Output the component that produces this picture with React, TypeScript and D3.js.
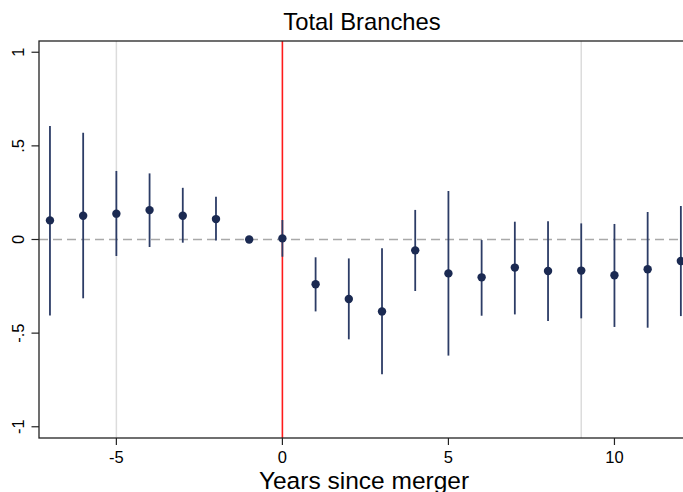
import React from 'react';
import * as d3 from 'd3';

// event-study estimates
const years = [-7, -6, -5, -4, -3, -2, -1, 0, 1, 2, 3, 4, 5, 6, 7, 8, 9, 10, 11, 12];
const coef = [0.102, 0.127, 0.138, 0.157, 0.127, 0.109, 0, 0.006, -0.239, -0.318, -0.384, -0.058, -0.181, -0.202, -0.15, -0.168, -0.166, -0.191, -0.159, -0.115];
const upper = [0.606, 0.57, 0.366, 0.353, 0.276, 0.228, null, 0.104, -0.095, -0.101, -0.047, 0.158, 0.259, -0.003, 0.095, 0.097, 0.086, 0.083, 0.147, 0.179];
const lower = [-0.406, -0.314, -0.088, -0.04, -0.017, -0.006, null, -0.092, -0.384, -0.533, -0.72, -0.275, -0.62, -0.407, -0.4, -0.435, -0.421, -0.467, -0.471, -0.409];

const xTicks = [-5, 0, 5, 10];
const yTicks = [1, 0.5, 0, -0.5, -1];
const yTickLabels = ['1', '.5', '0', '-.5', '-1'];
const grayLines = [-5, 9];
const eventYear = 0;

const width = 683;
const height = 492;
const font = '"Liberation Sans", Arial, Helvetica, sans-serif';

const App = () => {
  const left = 39;
  const right = 687.5;
  const top = 41;
  const bottom = 438;

  const x = d3.scaleLinear().domain([-7.33, 12.2]).range([left, right]);
  const y = d3.scaleLinear().domain([-1.06, 1.06]).range([bottom, top]);

  const navy = '#1b2a52';
  const barColor = '#2c3c66';

  return (
    <svg
      width={width}
      height={height}
      style={{ position: 'fixed', top: 0, left: 0, background: '#fff' }}
    >
      <rect x={0} y={0} width={width} height={height} fill="#fff" />

      {grayLines.map(v => (
        <line key={v} x1={x(v)} x2={x(v)} y1={top} y2={bottom} stroke="#dcdcdc" strokeWidth={1.5} />
      ))}

      <line x1={left} x2={right} y1={y(0)} y2={y(0)} stroke="#a9a9a9" strokeWidth={1.5} strokeDasharray="9,5" />

      <line x1={x(eventYear)} x2={x(eventYear)} y1={top} y2={bottom} stroke="#ff1a1a" strokeWidth={1.6} />

      {years.map((yr, i) =>
        upper[i] == null ? null : (
          <line key={'ci' + yr} x1={x(yr)} x2={x(yr)} y1={y(upper[i] as number)} y2={y(lower[i] as number)}
            stroke={barColor} strokeWidth={1.8} />
        )
      )}

      {years.map((yr, i) => (
        <circle key={'pt' + yr} cx={x(yr)} cy={y(coef[i])} r={4.2} fill={navy} />
      ))}

      {/* plot frame */}
      <rect x={left} y={top} width={right - left} height={bottom - top} fill="none" stroke="#222" strokeWidth={1.3} />

      {/* y axis */}
      {yTicks.map((t, i) => (
        <g key={'yt' + t}>
          <line x1={left - 7.5} x2={left} y1={y(t)} y2={y(t)} stroke="#222" strokeWidth={1.2} />
          <text
            transform={`translate(24,${y(t)}) rotate(-90)`}
            textAnchor="middle"
            fontFamily={font}
            fontSize={16.5}
            fill="#000"
          >
            {yTickLabels[i]}
          </text>
        </g>
      ))}

      {/* x axis */}
      {xTicks.map(t => (
        <g key={'xt' + t}>
          <line x1={x(t)} x2={x(t)} y1={bottom} y2={bottom + 7} stroke="#222" strokeWidth={1.2} />
          <text x={x(t)} y={463} textAnchor="middle" fontFamily={font} fontSize={16.5} fill="#000">
            {t}
          </text>
        </g>
      ))}

      <text x={364} y={489} textAnchor="middle" fontFamily={font} fontSize={24.5} fill="#000">
        Years since merger
      </text>

      <text x={362} y={30} textAnchor="middle" fontFamily={font} fontSize={23.8} fill="#000">
        Total Branches
      </text>
    </svg>
  );
};

export default App;
